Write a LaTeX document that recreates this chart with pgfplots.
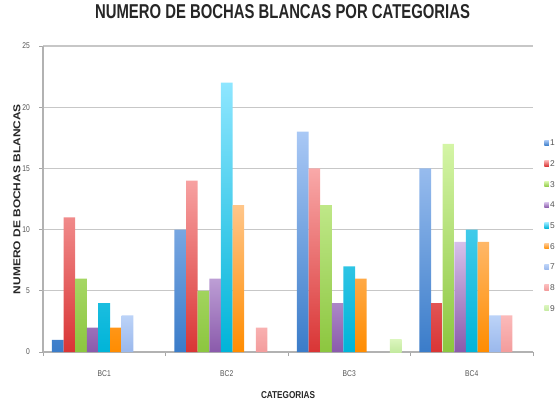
\documentclass[border=0pt]{standalone}
\usepackage{pgfplots}
\pgfplotsset{compat=1.18}
\usepackage{fontspec}
\setmainfont{Liberation Sans}
\definecolor{t1}{HTML}{A9C8F5}\definecolor{b1}{HTML}{3A7CC9}
\definecolor{t2}{HTML}{F9A9A9}\definecolor{b2}{HTML}{D93535}
\definecolor{t3}{HTML}{D4F5A6}\definecolor{b3}{HTML}{8CC63F}
\definecolor{t4}{HTML}{D6C0EA}\definecolor{b4}{HTML}{8A5AAB}
\definecolor{t5}{HTML}{8EE6FF}\definecolor{b5}{HTML}{00B4D8}
\definecolor{t6}{HTML}{FFC68A}\definecolor{b6}{HTML}{FF8C00}
\definecolor{t7}{HTML}{BCD3F8}\definecolor{b7}{HTML}{9AB8EC}
\definecolor{t8}{HTML}{FBBABA}\definecolor{b8}{HTML}{F39C9C}
\definecolor{t9}{HTML}{DAF5BC}\definecolor{b9}{HTML}{C4EAA0}
\definecolor{lab}{HTML}{555555}
\pgfplotsset{mybar/.style n args={3}{ybar, bar width=0.095, bar shift=#1, draw=none, top color=#2, bottom color=#3}}
\begin{document}
\begin{tikzpicture}
\path[use as bounding box] (-32.25pt,-36pt) rectangle (384.75pt,264pt);
\clip (-32.25pt,-36pt) rectangle (384.75pt,264pt);
\begin{axis}[
  at={(0pt,0pt)}, anchor=south west,
  scale only axis, width=367.5pt, height=229.5pt,
  xmin=-0.5, xmax=3.5, ymin=0, ymax=25,
  ytick={0,5,...,25},
  xtick={0,1,2,3}, xticklabels={BC1,BC2,BC3,BC4},
  minor xtick={-0.5,0.5,1.5,2.5,3.5},
  major x tick style={draw=none},
  minor x tick style={draw=black!35, line width=0.7pt},
  y tick style={draw=black!35, line width=0.7pt},
  major tick length=3pt, minor tick length=3pt,
  tick align=outside,
  axis x line*=bottom, axis y line*=left,
  axis line style={draw=black!30, line width=0.8pt, -},
  ymajorgrids, major grid style={draw=black!22, line width=0.8pt},
  /pgf/number format/assume math mode=true,
  tick label style={font=\fontsize{6.3}{7}\selectfont, text=lab, xscale=0.8},
  xticklabel style={anchor=center, yshift=-13.5pt},
  yticklabel style={anchor=east, xshift=-5pt},
  title={\resizebox{281.25pt}{10.5pt}{\bfseries NUMERO DE BOCHAS BLANCAS POR CATEGORIAS}},
  title style={at={(rel axis cs:0.5,1)}, anchor=center, yshift=19.5pt, xshift=-4.1pt, text=black!85, inner sep=0pt},
  xlabel={\resizebox{40.5pt}{5.25pt}{\bfseries CATEGORIAS}},
  xlabel style={at={(rel axis cs:0.5,0)}, anchor=center, yshift=-32.25pt, text=black!85, inner sep=0pt},
  legend style={at={(1.0143,0.706)}, anchor=north west, draw=none, fill=none,
    font=\fontsize{6.3}{7}\selectfont, text=lab, row sep=9.4pt,
    nodes={inner sep=0.8pt, text height=4.5pt, text depth=0pt}},
  legend cell align=left,
  legend image code/.code={\path[#1, draw=none] (0pt,-2pt) rectangle (3.5pt,2pt);},
]
\addplot[mybar={-0.38}{t1}{b1}] coordinates {(0,1) (1,10) (2,18) (3,15)};
\addplot[mybar={-0.285}{t2}{b2}] coordinates {(0,11) (1,14) (2,15) (3,4)};
\addplot[mybar={-0.19}{t3}{b3}] coordinates {(0,6) (1,5) (2,12) (3,17)};
\addplot[mybar={-0.095}{t4}{b4}] coordinates {(0,2) (1,6) (2,4) (3,9)};
\addplot[mybar={0}{t5}{b5}] coordinates {(0,4) (1,22) (2,7) (3,10)};
\addplot[mybar={0.095}{t6}{b6}] coordinates {(0,2) (1,12) (2,6) (3,9)};
\addplot[mybar={0.19}{t7}{b7}] coordinates {(0,3) (3,3)};
\addplot[mybar={0.285}{t8}{b8}] coordinates {(1,2) (3,3)};
\addplot[mybar={0.38}{t9}{b9}] coordinates {(2,1)};
\legend{1,2,3,4,5,6,7,8,9}
\end{axis}
\node[rotate=90, anchor=center, text=black!85, inner sep=0pt] at (-19.5pt,114.75pt)
  {\resizebox{142.5pt}{5.25pt}{\bfseries NUMERO DE BOCHAS BLANCAS}};
\end{tikzpicture}
\end{document}
